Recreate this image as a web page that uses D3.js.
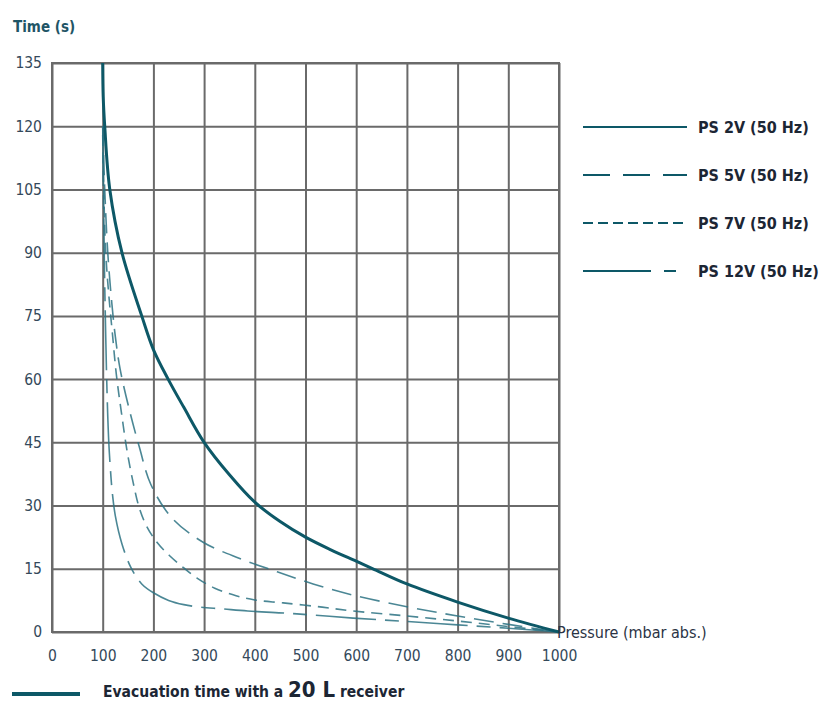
<html>
<head>
<meta charset="utf-8">
<script src="https://d3js.org/d3.v7.min.js"></script>
<style>
  body { margin: 0; background: #fff; }
  text { font-family: "DejaVu Sans Condensed", "DejaVu Sans", sans-serif; }
</style>
</head>
<body>
<div id="chart"></div>
<script>

// Tick labels
var xTicks = [0, 100, 200, 300, 400, 500, 600, 700, 800, 900, 1000];
var yTicks = [0, 15, 30, 45, 60, 75, 90, 105, 120, 135];

// Series: pressure (mbar abs.) and evacuation time (s)
var ps2vP  = [100, 101, 104, 114, 138, 177, 200, 229, 260, 300, 350, 400, 450, 500, 550, 600, 633, 700, 800, 900, 1000];
var ps2vT  = [135, 127, 120, 105, 90, 75, 67, 60, 53.3, 45, 37.3, 30.8, 26.2, 22.5, 19.5, 16.8, 15, 11.4, 7.1, 3.3, 0];

var ps5vP  = [100, 104, 110, 118, 125, 134, 152, 172, 195, 237, 298, 369, 444, 515, 592, 700, 800, 900, 1000];
var ps5vT  = [120, 105, 90, 78, 70, 62.6, 53, 44, 35, 27, 21.3, 17.5, 14.3, 11.4, 8.8, 6, 3.8, 1.8, 0];

var ps7vP  = [100, 102, 106, 112, 119, 127, 137, 148, 160, 172, 187, 207, 231, 260, 286, 321, 363, 400, 456, 533, 592, 700, 800, 900, 1000];
var ps7vT  = [118, 105, 90, 80, 71, 61, 52, 43, 35.5, 29.5, 25, 21.3, 18.2, 15.2, 12.8, 10.4, 8.6, 7.6, 6.9, 5.9, 5, 3.8, 2.6, 1.3, 0];

var ps12vP = [100, 103, 106, 109, 112, 115, 119, 125, 138, 156, 177, 200, 230, 260, 292, 335, 386, 483, 594, 700, 800, 900, 1000];
var ps12vT = [120, 90, 70, 55, 45, 39, 33, 27.5, 20.9, 15.2, 11.4, 9.3, 7.5, 6.5, 5.9, 5.5, 5, 4.3, 3.3, 2.5, 1.7, 0.9, 0];

var seriesNames = ["PS 2V (50 Hz)", "PS 5V (50 Hz)", "PS 7V (50 Hz)", "PS 12V (50 Hz)"];

var teal = "#0d5867";
var series = [
  {name: seriesNames[0], p: ps2vP,  t: ps2vT,  width: 3,   dash: null,        legendDash: null,          color: teal},
  {name: seriesNames[1], p: ps5vP,  t: ps5vT,  width: 1.6, dash: "20,9",      legendDash: "27,13",       color: "#2b7282"},
  {name: seriesNames[2], p: ps7vP,  t: ps7vT,  width: 1.6, dash: "11,7",      legendDash: "10,5",        color: "#2b7282"},
  {name: seriesNames[3], p: ps12vP, t: ps12vT, width: 1.6, dash: "60,9,14,9", legendDash: "68,13,12,30", color: "#2b7282"}
];

var W = 824, H = 702;
var plotL = 52, plotR = 559, plotT = 63, plotB = 632;

var svg = d3.select("#chart").append("svg")
  .attr("width", W)
  .attr("height", H);

var x = d3.scaleLinear().domain([0, 1000]).range([plotL, plotR]);
var y = d3.scaleLinear().domain([0, 135]).range([plotB, plotT]);

// grid via axes
var gx = svg.append("g")
  .attr("transform", "translate(0," + plotB + ")")
  .call(d3.axisBottom(x).tickValues(xTicks).tickFormat(d3.format("d"))
    .tickSize(-(plotB - plotT)).tickPadding(18));
var gy = svg.append("g")
  .attr("transform", "translate(" + plotL + ",0)")
  .call(d3.axisLeft(y).tickValues(yTicks).tickFormat(d3.format("d"))
    .tickSize(-(plotR - plotL)).tickPadding(10));

[gx, gy].forEach(function(g) {
  g.select(".domain").remove();
  g.selectAll("line").attr("stroke", "#6a6a6a").attr("stroke-width", 2);
  g.selectAll("text")
    .attr("fill", "#34495a")
    .style("font-size", "15.5px")
    .style("font-family", "'DejaVu Sans Condensed', 'DejaVu Sans', sans-serif");
});

// frame
svg.append("rect")
  .attr("x", x(0)).attr("y", y(135))
  .attr("width", x(1000) - x(0)).attr("height", y(0) - y(135))
  .attr("fill", "none").attr("stroke", "#6a6a6a").attr("stroke-width", 2);

// curves
var line = d3.line()
  .x(function(d) { return x(d[0]); })
  .y(function(d) { return y(d[1]); })
  .curve(d3.curveCatmullRom.alpha(0.5));

series.slice().reverse().forEach(function(s) {
  var pts = s.p.map(function(p, i) { return [p, s.t[i]]; });
  svg.append("path")
    .datum(pts)
    .attr("d", line)
    .attr("fill", "none")
    .attr("stroke", s.color)
    .attr("stroke-width", s.width)
    .attr("stroke-dasharray", s.dash)
    .attr("opacity", s.dash ? 0.85 : 1);
});

// axis titles
svg.append("text")
  .attr("x", 13).attr("y", 32)
  .attr("fill", "#1f5566")
  .style("font-size", "15px").style("font-weight", "bold")
  .text("Time (s)");

svg.append("text")
  .attr("x", 557).attr("y", 638)
  .attr("fill", "#2a3344")
  .style("font-size", "16px")
  .text("Pressure (mbar abs.)");

// legend
var legY = [127, 175, 223, 271];
series.forEach(function(s, i) {
  svg.append("line")
    .attr("x1", 583).attr("x2", 687)
    .attr("y1", legY[i]).attr("y2", legY[i])
    .attr("stroke", teal)
    .attr("stroke-width", 2)
    .attr("stroke-dasharray", s.legendDash);
  svg.append("text")
    .attr("x", 698).attr("y", legY[i])
    .attr("dy", "0.35em")
    .attr("fill", "#1c2634")
    .style("font-size", "16px").style("font-weight", "bold")
    .text(s.name);
});

// bottom caption
svg.append("line")
  .attr("x1", 12).attr("x2", 80)
  .attr("y1", 694).attr("y2", 694)
  .attr("stroke", teal).attr("stroke-width", 4);

var cap = svg.append("text")
  .attr("x", 103).attr("y", 697)
  .attr("fill", "#1c2634")
  .style("font-weight", "bold")
  .style("font-size", "15.5px");
cap.append("tspan").text("Evacuation time with a ");
cap.append("tspan").style("font-size", "22px").text("20 L");
cap.append("tspan").text(" receiver");

</script>
</body>
</html>
